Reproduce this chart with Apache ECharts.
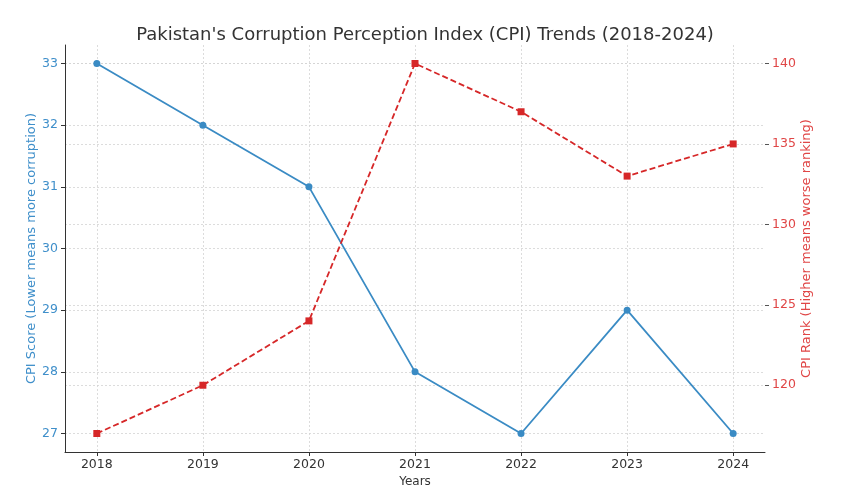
<!DOCTYPE html>
<html>
<head>
<meta charset="utf-8">
<script src="https://cdn.jsdelivr.net/npm/echarts@6/dist/echarts.min.js"></script>
<style>html,body{margin:0;padding:0;background:#fff}#c{width:850px;height:500px}</style>
</head>
<body>
<div id="c"></div>
<script>
const years = [2018, 2019, 2020, 2021, 2022, 2023, 2024];
const cpiScore = [33, 32, 31, 28, 27, 29, 27];
const cpiRank = [117, 120, 124, 140, 137, 133, 135];
const scoreTicks = [27, 28, 29, 30, 31, 32, 33];
const rankTicks = [120, 125, 130, 135, 140];

const blue = '#3a8bc4';
const blueText = '#3f8fca';
const red = '#d62728';
const redText = '#e04646';
const font = 'DejaVu Sans';
const grid = { type: [2, 2], color: '#d4d4d4', width: 0.8 };

const chart = echarts.init(document.getElementById('c'), null, { renderer: 'canvas' });
chart.setOption({
  animation: false,
  backgroundColor: '#fff',
  title: {
    text: "Pakistan's Corruption Perception Index (CPI) Trends (2018-2024)",
    left: 'center', top: 21,
    textStyle: { fontFamily: font, fontSize: 18, fontWeight: 'normal', color: '#333' }
  },
  grid: { left: 65, right: 85, top: 45, bottom: 48 },
  xAxis: {
    type: 'value', min: 2017.7, max: 2024.3,
    name: 'Years', nameLocation: 'middle', nameGap: 24, nameMoveOverlap: false,
    nameTextStyle: { fontFamily: font, fontSize: 12, color: '#333' },
    axisLine: { lineStyle: { color: '#333', width: 1 } },
    axisTick: { show: true, length: 4, customValues: years, lineStyle: { color: '#333' } },
    axisLabel: { customValues: years, fontFamily: font, fontSize: 12.5, color: '#333', margin: 6, formatter: v => String(Math.round(v)) },
    splitLine: { show: true, lineStyle: grid }
  },
  yAxis: [
    {
      type: 'value', min: 26.7, max: 33.3, position: 'left',
      name: 'CPI Score (Lower means more corruption)', nameLocation: 'middle', nameGap: 27, nameMoveOverlap: false,
      nameTextStyle: { fontFamily: font, fontSize: 13, color: blueText },
      axisLine: { show: true, lineStyle: { color: '#333', width: 1 } },
      axisTick: { show: true, length: 4, customValues: scoreTicks, lineStyle: { color: '#333' } },
      axisLabel: { customValues: scoreTicks, fontFamily: font, fontSize: 12.5, color: blueText, margin: 7 },
      splitLine: { show: true, lineStyle: grid }
    },
    {
      type: 'value', min: 115.85, max: 141.15, position: 'right',
      name: 'CPI Rank (Higher means worse ranking)', nameLocation: 'middle', nameGap: 35, nameMoveOverlap: false,
      nameTextStyle: { fontFamily: font, fontSize: 13, color: redText },
      axisLine: { show: false },
      axisTick: { show: true, length: 4, customValues: rankTicks, lineStyle: { color: '#555' } },
      axisLabel: { customValues: rankTicks, fontFamily: font, fontSize: 12.5, color: redText, margin: 7 },
      splitLine: { show: true, lineStyle: grid }
    }
  ],
  series: [
    {
      type: 'line', name: 'CPI Score', yAxisIndex: 0,
      data: years.map((y, i) => [y, cpiScore[i]]),
      symbol: 'circle', symbolSize: 7,
      lineStyle: { color: blue, width: 1.8 },
      itemStyle: { color: blue }
    },
    {
      type: 'line', name: 'CPI Rank', yAxisIndex: 1,
      data: years.map((y, i) => [y, cpiRank[i]]),
      symbol: 'rect', symbolSize: 7,
      lineStyle: { color: red, width: 1.8, type: [6, 3] },
      itemStyle: { color: red }
    }
  ]
});
</script>
</body>
</html>
